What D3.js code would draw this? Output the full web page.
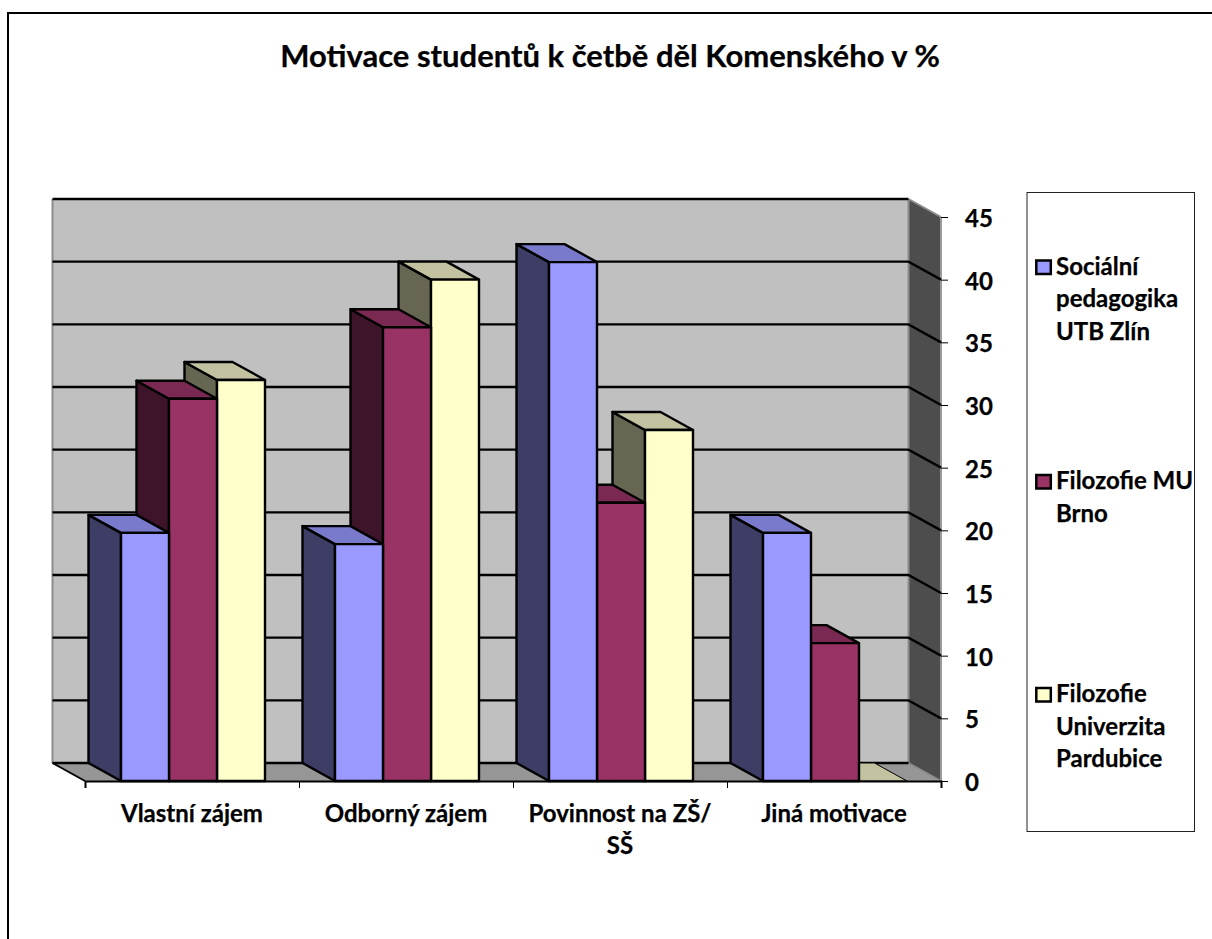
<!DOCTYPE html>
<html><head><meta charset="utf-8">
<style>html,body{margin:0;padding:0;background:#fff}svg{display:block}text{font-family:Lato,"Open Sans",sans-serif;font-weight:700;fill:#000;stroke:#000;stroke-width:.25px}</style>
<script src="https://cdn.jsdelivr.net/npm/d3@7/dist/d3.min.js"></script>
</head><body><svg id="c" width="1212" height="939"></svg>
<script>
const title = "Motivace studentů k četbě děl Komenského v %";
const categories = ["Vlastní zájem", "Odborný zájem", "Povinnost na ZŠ/ SŠ", "Jiná motivace"];
const categoryLines = [["Vlastní zájem"], ["Odborný zájem"], ["Povinnost na ZŠ/", "SŠ"], ["Jiná motivace"]];
const seriesNames = ["Sociální pedagogika UTB Zlín", "Filozofie MU Brno", "Filozofie Univerzita Pardubice"];
const legendLines = [["Sociální", "pedagogika", "UTB Zlín"], ["Filozofie MU", "Brno"], ["Filozofie", "Univerzita", "Pardubice"]];
const socialni = [19.8, 18.9, 41.4, 19.8];
const filozofieMU = [30.5, 36.2, 22.2, 11];
const filozofieUPa = [32, 40, 28, 0];
const seriesValues = [socialni, filozofieMU, filozofieUPa];
const yTicks = [0, 5, 10, 15, 20, 25, 30, 35, 40, 45];
const frontColors = ["#9999ff", "#993366", "#ffffcc"];
const sideColors = ["#3d3d66", "#3d1429", "#666652"];
const topColors = ["#7a7acc", "#7a2952", "#c2c2a0"];

const svg = d3.select("#c");
const dx = -32.5, dy = -18;
const x0 = 85, x1 = 941, yB = 781, yT = 217;
const x = d3.scaleBand().domain(categories).range([x0, x1]);
const y = d3.scaleLinear().domain([0, 45]).range([yB, yT]);
const barInner = d3.scaleBand().domain(d3.range(3)).range([36, 180]);
const poly = pts => pts.map(p => p.join(",")).join(" ");

// frame
svg.append("path").attr("d", "M8,939V13H1212").attr("fill", "none").attr("stroke", "#000").attr("stroke-width", 2);

svg.append("text").attr("x", 610).attr("y", 67).attr("text-anchor", "middle").attr("font-size", 31).text(title);

// walls
svg.append("polygon").attr("points", poly([[x0+dx,yT+dy],[x1+dx,yT+dy],[x1+dx,yB+dy],[x0+dx,yB+dy]])).attr("fill", "#c0c0c0");
svg.append("polygon").attr("points", poly([[x1+dx,yT+dy],[x1,yT],[x1,yB],[x1+dx,yB+dy]])).attr("fill", "#4d4d4d");
svg.append("polygon").attr("points", poly([[x0+dx,yB+dy],[x1+dx,yB+dy],[x1,yB],[x0,yB]])).attr("fill", "#969696");
svg.append("line").attr("x1", x1+dx).attr("x2", x1+dx).attr("y1", yT+dy).attr("y2", yB+dy).attr("stroke", "#8c8c8c").attr("stroke-width", 2);
svg.append("line").attr("x1", x0+dx).attr("x2", x0+dx).attr("y1", yT+dy).attr("y2", yB+dy).attr("stroke", "#8c8c8c").attr("stroke-width", 2);
svg.append("line").attr("x1", x1).attr("x2", x1).attr("y1", yT).attr("y2", yB).attr("stroke", "#9a9a9a").attr("stroke-width", 2);
svg.append("path").attr("d", `M${x1+dx},${yT+dy}L${x1},${yT}M${x1+dx},${yB+dy}L${x1},${yB}`).attr("stroke", "#8c8c8c").attr("stroke-width", 2).attr("fill","none");
svg.append("path").attr("d", `M${x0+dx},${yB+dy}L${x0},${yB}`).attr("stroke", "#000").attr("stroke-width", 2).attr("fill","none");

// gridlines on back and side wall
svg.selectAll(".grid").data(yTicks).join("path").attr("class", "grid")
  .attr("d", t => (t === 0 || t === 45)
     ? `M${x0+dx},${y(t)+dy}H${x1+dx}`
     : `M${x0+dx},${y(t)+dy}H${x1+dx}L${x1},${y(t)}`)
  .attr("fill", "none").attr("stroke", "#000").attr("stroke-width", 2.4);

// bars, drawn right to left so nearer fronts overlap the sides behind
categories.forEach((c, ci) => {
  [2, 1, 0].forEach(si => {
    const v = seriesValues[si][ci];
    const l = x(c) + barInner(si), r = l + barInner.bandwidth();
    const t = y(v), b = y(0);
    const g = svg.append("g").attr("stroke", "#000").attr("stroke-width", 2.4).attr("stroke-linejoin", "round");
    if (v > 0) {
      g.append("polygon").attr("points", poly([[l,t],[l+dx,t+dy],[l+dx,b+dy],[l,b]])).attr("fill", sideColors[si]);
    }
    g.append("polygon").attr("points", poly([[l,t],[r,t],[r+dx,t+dy],[l+dx,t+dy]])).attr("fill", topColors[si]).attr("stroke-width", v > 0 ? 2.4 : 1);
    if (v > 0) g.append("rect").attr("x", l).attr("y", t).attr("width", r-l).attr("height", b-t).attr("fill", frontColors[si]);
  });
});

// x axis
const xAxis = d3.axisBottom(d3.scalePoint().domain(d3.range(5)).range([x0, x1])).tickSize(7).tickFormat("");
const xg = svg.append("g").attr("transform", `translate(0,${yB})`).call(xAxis);
xg.select(".domain").attr("stroke", "#000").attr("stroke-width", 2);
xg.selectAll(".tick line").attr("stroke", "#000");

categories.forEach((c, i) => {
  const t = svg.append("text").attr("text-anchor", "middle").attr("font-size", 24);
  categoryLines[i].forEach((ln, j) => t.append("tspan").attr("x", x(c) + x.bandwidth()/2).attr("y", 822 + j*32).text(ln));
});

// y axis
const yg = svg.append("g").attr("transform", `translate(${x1},0)`)
  .call(d3.axisRight(y).tickValues(yTicks).tickSize(7));
yg.select(".domain").remove();
yg.selectAll(".tick line").attr("stroke", "#000");
yg.selectAll(".tick text").style("font-size", "24px").style("font-family", "Lato,sans-serif").style("font-weight", 700).attr("fill", "#000").attr("y", 1).attr("dy", "0.36em").attr("x", 24).attr("text-anchor", "start");

// legend
svg.append("rect").attr("x", 1027).attr("y", 192.5).attr("width", 167.5).attr("height", 639).attr("fill", "#fff").attr("stroke", "#222");
const legendTop = [274.5, 489, 702], legendStep = 32.5;
seriesNames.forEach((n, i) => {
  svg.append("rect").attr("x", 1036.3).attr("y", legendTop[i]-14).attr("width", 14.5).attr("height", 13.5).attr("fill", frontColors[i]).attr("stroke", "#000").attr("stroke-width", 2.5);
  const t = svg.append("text").attr("font-size", 24);
  legendLines[i].forEach((ln, j) => t.append("tspan").attr("x", 1056).attr("y", legendTop[i] + j*legendStep).text(ln));
});
</script></body></html>
